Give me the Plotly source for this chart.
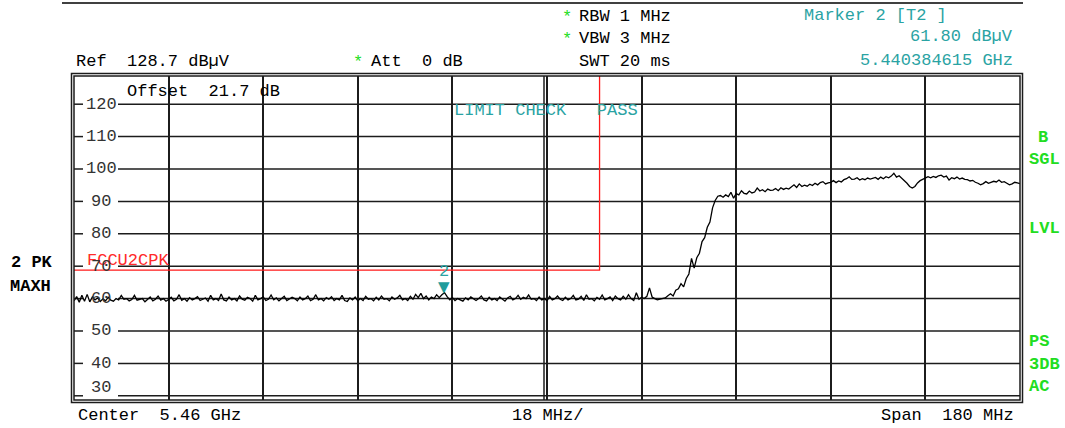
import plotly.graph_objects as go
import numpy as np

# analyzer settings
center_ghz = 5.46
span_ghz = 0.18
ref_level = 128.7
bottom_level = 28.7
y_ticks = [30, 40, 50, 60, 70, 80, 90, 100, 110, 120]

# trace, 0.5 MHz per point from 5.37 to 5.55 GHz
trace_db = [
    59.3, 60.6, 58.9, 61.0, 59.2, 61.3, 59.0, 60.5, 59.6, 60.2, 59.1, 59.9, 59.3, 60.4, 59.5, 59.2, 60.0, 59.6, 61.0, 59.8,
    60.0, 59.3, 59.7, 61.0, 59.5, 59.8, 60.0, 59.0, 59.7, 60.5, 59.3, 59.8, 60.8, 59.5, 60.0, 59.2, 59.7, 60.4, 59.3, 59.8,
    61.2, 59.5, 60.0, 59.2, 60.3, 59.6, 60.0, 60.6, 59.4, 59.8, 60.2, 59.2, 61.0, 59.6, 60.0, 59.4, 61.4, 59.6, 59.3, 60.5,
    59.6, 60.0, 59.3, 60.8, 59.8, 59.5, 60.4, 60.0, 59.2, 61.0, 59.6, 60.0, 60.5, 59.4, 59.8, 61.1, 59.6, 60.2, 59.3, 60.0,
    60.7, 59.4, 59.8, 60.4, 60.0, 59.3, 60.5, 59.6, 60.0, 60.8, 59.4, 59.8, 61.2, 59.6, 60.0, 59.3, 60.3, 59.8, 60.6, 59.4,
    60.0, 59.6, 61.0, 59.4, 59.1, 60.2, 59.6, 60.5, 59.3, 60.0, 59.4, 60.7, 59.8, 60.0, 59.3, 60.4, 59.6, 60.8, 59.8, 60.0,
    59.3, 60.5, 59.8, 60.2, 61.0, 59.6, 60.0, 59.4, 60.7, 59.8, 61.3, 60.3, 61.6, 60.0, 60.8, 59.6, 60.5, 60.0, 61.2, 60.3,
    61.2, 61.8, 60.6, 59.6, 60.3, 59.4, 60.0, 59.6, 59.2, 60.2, 59.6, 60.5, 59.8, 59.4, 60.0, 60.8, 59.6, 59.3, 60.4, 59.6,
    60.0, 59.4, 60.5, 59.8, 59.2, 60.2, 60.7, 59.6, 60.0, 61.0, 59.8, 60.4, 60.0, 61.1, 59.8, 60.0, 59.4, 60.5, 59.6, 60.0,
    59.3, 60.7, 59.6, 60.0, 60.8, 59.8, 59.4, 60.4, 59.6, 60.0, 61.0, 59.6, 59.8, 60.7, 59.4, 61.2, 59.8, 60.0, 59.3, 60.4,
    59.8, 61.1, 59.6, 60.0, 60.5, 59.4, 60.8, 60.0, 59.6, 60.7, 59.8, 61.2, 60.0, 59.4, 61.8, 59.8, 60.4, 60.0, 60.7, 63.3,
    60.5, 60.0, 59.6, 59.8, 60.0, 60.2, 60.9, 61.5, 60.8, 62.6, 63.0, 64.6, 63.6, 66.2, 67.6, 72.4, 69.4, 72.6, 74.0, 77.6,
    78.8, 82.0, 83.6, 88.0, 90.3, 91.6, 91.8, 91.3, 92.0, 91.5, 92.8, 91.0, 92.4, 92.0, 93.3, 92.5, 92.3, 93.2, 92.6, 92.9,
    94.1, 93.2, 93.6, 93.0, 93.8, 93.4, 93.5, 94.0, 93.3, 94.2, 93.7, 94.1, 93.8, 94.5, 95.1, 94.3, 95.4, 94.6, 95.0, 94.7,
    95.3, 94.9, 95.6, 95.1, 95.8, 96.1, 95.4, 95.7, 95.9, 96.4, 95.8, 96.3, 96.0, 96.7, 97.0, 97.6, 96.8, 96.9, 97.3, 96.6,
    97.0, 96.7, 97.2, 96.9, 97.2, 97.4, 96.8, 97.5, 97.0, 97.6, 97.3, 97.8, 98.7, 97.5, 97.9, 97.2, 96.5, 95.6, 94.6, 94.1,
    94.6, 95.7, 96.4, 96.8, 97.2, 97.6, 97.3, 97.7, 97.4, 97.9, 98.1, 97.5, 97.8, 96.6, 97.3, 97.0, 97.5, 96.9, 97.2, 96.8,
    96.7, 96.3, 96.5, 95.9, 95.6, 95.1, 95.5, 96.1, 95.6, 95.8, 96.2, 96.0, 96.6, 95.9, 96.1, 95.6, 95.1, 95.4, 95.9, 95.7, 95.5,
]

limit_f = [5.37, 5.47, 5.47]
limit_db = [68.8, 68.8, 128.7]
limit_name = 'FCCU2CPK'

marker_f = 5.440384615
marker_db = 61.80

f_start = center_ghz - span_ghz / 2
f_stop = center_ghz + span_ghz / 2
freq = np.linspace(f_start, f_stop, len(trace_db))

# page geometry (pixels)
W, H = 1065, 428
L, R, T, B = 74, 45, 76, 28
PW, PH = W - L - R, H - T - B

def px(x):
    return (x - L) / PW

def py(y):
    return (H - B - y) / PH

MONO = 'Liberation Mono, Courier New, monospace'
FS = 17
TEAL = '#2aa3a3'
GREEN = '#22dd22'
RED = '#ff2a2a'
GRID = '#1c1c1c'

fig = go.Figure()

fig.add_trace(go.Scatter(
    x=limit_f, y=limit_db, mode='lines',
    line=dict(color='#ff1a1a', width=1.3), hoverinfo='skip'
))

fig.add_trace(go.Scatter(
    x=freq, y=trace_db, mode='lines',
    line=dict(color='black', width=1.3)
))

shapes = []
# horizontal grid with a gap for the level labels
for v in y_ticks:
    for x0, x1 in [(0, px(83)), (px(118), 1)]:
        shapes.append(dict(type='line', xref='x domain', yref='y', x0=x0, x1=x1, y0=v, y1=v,
                           line=dict(color=GRID, width=1.5), layer='below'))
# doubled centre line
shapes.append(dict(type='line', xref='x domain', yref='y domain', x0=0.5 - 3 / PW, x1=0.5 - 3 / PW, y0=0, y1=1,
                   line=dict(color=GRID, width=1.5), layer='below'))
# double frame
shapes.append(dict(type='rect', xref='x domain', yref='y domain', x0=0, x1=1, y0=0, y1=1,
                   line=dict(color=GRID, width=1.5)))
shapes.append(dict(type='rect', xref='x domain', yref='y domain',
                   x0=-2.5 / PW, x1=1 + 2.5 / PW, y0=-2.5 / PH, y1=1 + 2.5 / PH,
                   line=dict(color=GRID, width=1.5)))
# top rule
shapes.append(dict(type='line', xref='paper', yref='paper', x0=px(62), x1=px(1023), y0=py(3), y1=py(3),
                   line=dict(color='black', width=1.5)))

ann = []

def txt(x, y, s, color='black', anchor='left', bold=False, size=FS):
    if bold:
        s = '<b>' + s + '</b>'
    ann.append(dict(xref='paper', yref='paper', x=px(x), y=py(y), text=s, showarrow=False,
                    xanchor=anchor, yanchor='middle', font=dict(family=MONO, size=size, color=color)))

# header
txt(567, 17, '*', GREEN, 'center')
txt(577, 16, 'RBW 1 MHz')
txt(567, 40, '*', GREEN, 'center')
txt(577, 39, 'VBW 3 MHz')
txt(74, 61, 'Ref  128.7 dBµV')
txt(358, 62, '*', GREEN, 'center')
txt(369, 61, 'Att  0 dB')
txt(577, 61, 'SWT 20 ms')
txt(802, 15, 'Marker 2 [T2 ]', TEAL)
txt(1015, 37, f'{marker_db:.2f} dBµV', TEAL, 'right')
txt(1015, 60, f'{marker_f:.9f} GHz', TEAL, 'right')

# inside the grid
txt(125, 91, 'Offset  21.7 dB')
txt(452, 110, 'LIMIT CHECK   PASS', TEAL)
txt(85, 260, limit_name, RED)

# side labels
txt(9, 262, '2 PK', bold=True)
txt(8, 286, 'MAXH', bold=True)
txt(1043, 137, 'B', GREEN, 'center', True)
for s, y in [('SGL', 159), ('LVL', 228), ('PS', 341), ('3DB', 364), ('AC', 386)]:
    txt(1027, y, s, GREEN, bold=True)

# footer
txt(76, 415, f'Center  {center_ghz:.2f} GHz')
txt(547, 415, f'{span_ghz * 100:.0f} MHz/', anchor='center')
txt(1016, 415, f'Span  {span_ghz * 1000:.0f} MHz', anchor='right')

# level labels
for v in y_ticks:
    ann.append(dict(xref='x domain', yref='y', x=px(101), y=v, text=str(v), showarrow=False,
                    xanchor='center', yanchor='middle', yshift=8 if v == 30 else 0,
                    font=dict(family=MONO, size=FS, color='#333')))

# marker 2
ann.append(dict(x=marker_f, y=marker_db, text='▼', showarrow=False, yanchor='middle', yshift=6,
                font=dict(family='DejaVu Sans', size=15, color='#1f9c9c')))
ann.append(dict(x=marker_f, y=marker_db, text='2', showarrow=False, yanchor='middle', yshift=21,
                font=dict(family=MONO, size=FS, color=TEAL)))

fig.update_layout(
    width=W, height=H,
    margin=dict(l=L, r=R, t=T, b=B),
    paper_bgcolor='white', plot_bgcolor='white',
    showlegend=False,
    xaxis=dict(range=[f_start, f_stop], showticklabels=False, showgrid=True, gridcolor=GRID, gridwidth=1.5,
               tick0=f_start, dtick=span_ghz / 10, zeroline=False, showline=False, ticks=''),
    yaxis=dict(range=[bottom_level, ref_level], showticklabels=False, showgrid=False, zeroline=False,
               showline=False, ticks=''),
    shapes=shapes,
    annotations=ann,
)

# drop the default page margin so the figure sits at the top-left corner
fig.write_html('out.html', config={'displayModeBar': False},
               post_script="document.body.style.margin='0';")
